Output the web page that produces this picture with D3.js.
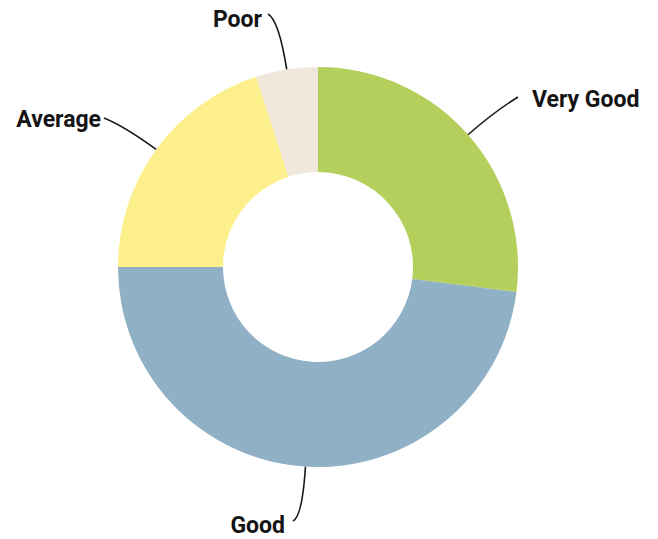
<!DOCTYPE html>
<html>
<head>
<meta charset="utf-8">
<script src="https://cdn.jsdelivr.net/npm/d3@7"></script>
<style>
  body { margin: 0; background: #fff; }
  text { font-family: Roboto, "Liberation Sans", sans-serif; font-weight: 700; font-size: 23px; fill: #141414; }
</style>
</head>
<body>
<svg class="chart"></svg>
<script>
// ratings share, clockwise from 12 o'clock
var categories = ["Very Good", "Good", "Average", "Poor"];
var values = [27, 48, 20, 5];
var colors = ["#b4cf5b", "#8fb0c5", "#fcef8c", "#f1e8dd"];

var width = 658, height = 539;
var cx = 318, cy = 267;
var outerR = 200, innerR = 95;

// where each label sits (layout only)
var labelPos = {
  "Very Good": {x: 532, y: 107, anchor: "start", end: [518, 97], ctrl: 235},
  "Good":      {x: 285, y: 533, anchor: "end",   end: [293, 521], ctrl: 250},
  "Average":   {x: 101, y: 127, anchor: "end",   end: [104, 118], ctrl: 240},
  "Poor":      {x: 262, y: 27,  anchor: "end",   end: [268, 14],  ctrl: 250}
};

var data = categories.map(function(c, i) { return {name: c, value: values[i], color: colors[i]}; });

var pie = d3.pie().sort(null).value(function(d) { return d.value; });
var arc = d3.arc().innerRadius(innerR).outerRadius(outerR);

var chart = d3.select(".chart")
    .attr("width", width)
    .attr("height", height);

var g = chart.append("g").attr("transform", "translate(" + cx + "," + cy + ")");

var arcs = pie(data);

g.selectAll("path.slice")
    .data(arcs)
  .enter().append("path")
    .attr("class", "slice")
    .attr("d", arc)
    .attr("fill", function(d) { return d.data.color; });

function polar(r, a) { return [r * Math.sin(a), -r * Math.cos(a)]; }

// leader lines
g.selectAll("path.leader")
    .data(arcs)
  .enter().append("path")
    .attr("class", "leader")
    .attr("fill", "none")
    .attr("stroke", "#1a1a1a")
    .attr("stroke-width", 1.6)
    .attr("d", function(d) {
      var p = labelPos[d.data.name];
      var mid = (d.startAngle + d.endAngle) / 2;
      var a = polar(outerR, mid), c = polar(p.ctrl, mid);
      var e = [p.end[0] - cx, p.end[1] - cy];
      return "M" + a + "Q" + c + " " + e;
    });

chart.selectAll("text.label")
    .data(data)
  .enter().append("text")
    .attr("class", "label")
    .attr("x", function(d) { return labelPos[d.name].x; })
    .attr("y", function(d) { return labelPos[d.name].y; })
    .attr("text-anchor", function(d) { return labelPos[d.name].anchor; })
    .text(function(d) { return d.name; });
</script>
</body>
</html>
